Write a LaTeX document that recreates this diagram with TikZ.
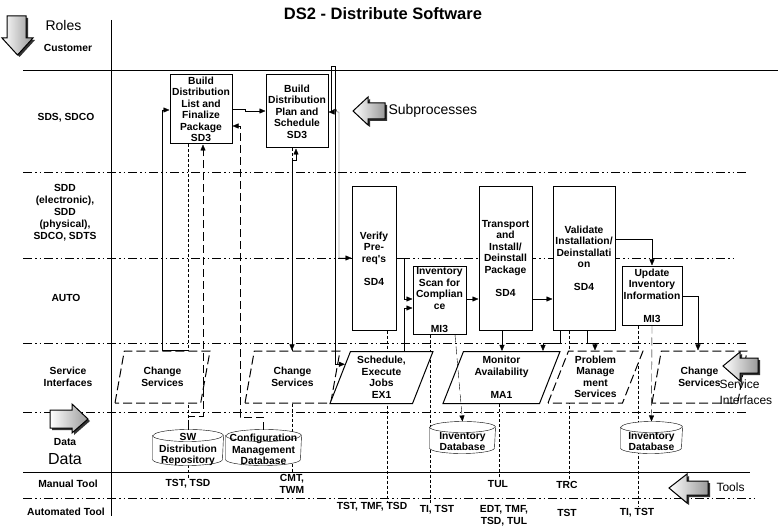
\documentclass[tikz,border=0pt]{standalone}
\usepackage{fontspec}
\setmainfont{Liberation Sans}
\usetikzlibrary{positioning}
\usetikzlibrary{shapes.geometric}
\usetikzlibrary{arrows.meta}
\usetikzlibrary{calc}
\pgfdeclarelayer{background}
\pgfsetlayers{background,main}
\newcommand{\procfont}{\bfseries\fontsize{10.3}{11.5}\selectfont}
\newcommand{\bigfont}{\fontsize{14}{16}\selectfont}
\newcommand{\ChangeSvc}{Change\\Services}
\newcommand{\InvDB}{Inventory\\Database}
\newcommand{\blockarrow}[1]{\fill[arrowshadow] #1; \path[bigarrow] #1;}
% database drum round a named node: name, x radius, y radius
\newcommand{\dbdraw}[3]{%
  \draw[fill=white] ([yshift=-#3]#1.north west) -- ([yshift=#3]#1.south west)
    arc[start angle=180, end angle=360, x radius=#2, y radius=#3]
    -- ([yshift=-#3]#1.north east)
    arc[start angle=0, end angle=180, x radius=#2, y radius=#3] -- cycle;
  \draw ([yshift=-#3]#1.north west) arc[start angle=180, end angle=360, x radius=#2, y radius=#3];}
\tikzstyle{proc} = [rectangle, draw, fill=white, inner sep=0pt, align=center, font=\procfont]
\tikzstyle{svc} = [trapezium, trapezium left angle=64, trapezium right angle=116, trapezium stretches body, draw, fill=white, inner sep=0pt, minimum height=52pt, align=center, font=\procfont]
\tikzstyle{svcD} = [svc, dash pattern=on 9pt off 4pt]
\tikzstyle{db} = [rectangle, inner sep=0pt]
\tikzstyle{dbtext} = [align=center, font=\procfont, inner sep=0pt]
\tikzstyle{lane} = [dash pattern=on 9pt off 3pt on 1.5pt off 3pt on 1.5pt off 3pt]
\tikzstyle{tool} = [dash pattern=on 3pt off 2pt]
\tikzstyle{datalink} = [dash pattern=on 8pt off 4pt]
\tikzstyle{role} = [align=center, font=\procfont]
\tikzstyle{toolLbl} = [align=center, font=\bfseries\fontsize{10.3}{12}\selectfont, inner sep=1pt]
\tikzstyle{bigarrow} = [draw, left color=white, right color=gray!80]
\tikzstyle{arrowshadow} = [fill=gray!40!black, xshift=2pt, yshift=-2pt]

\begin{document}
\begin{tikzpicture}[x=1pt, y=-1pt, line width=1pt, >={Triangle[length=6pt,width=5pt]}]
\useasboundingbox (0,0) rectangle (780,532);

% Define nodes
\node[font=\bfseries\fontsize{16.5}{18}\selectfont] (title) at (383,14) {DS2 - Distribute Software};

\node[anchor=west, inner sep=0pt, font=\bigfont]   (roles)    at (45,25)  {Roles};
\node[role]                                       (customer) at (68,48)  {Customer};
\node[role]                                       (sds)      at (66,118) {SDS, SDCO};
\node[role, font=\bfseries\fontsize{10.3}{12}\selectfont] (sdd) at (65,213) {SDD\\(electronic),\\SDD\\(physical),\\SDCO, SDTS};
\node[role]                                       (auto)     at (66,298) {AUTO};
\node[role]                                       (svcRole)  at (68,377) {Service\\Interfaces};
\node[role]                                       (dataS)    at (65,442) {Data};
\node[font=\fontsize{16}{18}\selectfont, inner sep=0pt] (dataL) at (65,459) {Data};
\node[role]                                       (manual)   at (68,484) {Manual Tool};
\node[role]                                       (automated) at (66,512) {Automated Tool};

\node[proc, minimum width=62pt, minimum height=69pt]                        (listpkg)   at (201,109.5) {Build\\Distribution\\List and\\Finalize\\Package\\SD3};
\node[proc, minimum width=62pt, minimum height=73pt, right=33pt of listpkg, yshift=-2pt] (planSched) {Build\\Distribution\\Plan and\\Schedule\\SD3};
\node[proc, minimum width=44pt, minimum height=143pt]                       (verify)    at (374,258.5) {Verify\\Pre-\\req\textquotesingle s\\~\\SD4};
\node[proc, minimum width=53pt, minimum height=68pt]                        (invscan)   at (439.5,300) {Inventory\\Scan for\\Complian\\ce\\~\\MI3};
\node[proc, minimum width=53pt, minimum height=143pt, right=82pt of verify] (transport) {Transport\\and\\Install/\\Deinstall\\Package\\~\\SD4};
\node[proc, minimum width=62pt, minimum height=143pt, right=20pt of transport] (validate) {Validate\\Installation/\\Deinstallati\\on\\~\\SD4};
\node[proc, minimum width=60pt, minimum height=59pt]                        (update)    at (652,295.5) {Update\\Inventory\\Information\\~\\MI3};

\node[svcD, minimum width=95pt]  (chg1)    at (162.5,377) {\ChangeSvc};
\node[svcD, minimum width=95pt]  (chg2)    at (292.5,377) {\ChangeSvc};
\node[svc,  minimum width=103pt] (jobs)    at (381.5,377.5) {Schedule,\\Execute\\Jobs\\EX1};
\node[svc,  minimum width=117pt] (monitor) at (501.5,377.5) {Monitor\\Availability\\~\\MA1};
\node[svcD, minimum width=95pt]  (problem) at (595.5,377) {Problem\\Manage\\ment\\Services};
\node[svcD, minimum width=95pt]  (chg3)    at (699.5,377) {\ChangeSvc};

\node[db, minimum width=70pt, minimum height=35pt, label={[dbtext, yshift=-2pt]center:{SW\\Distribution\\Repository}}]  (swrepo) at (188,447.5) {};
\node[db, minimum width=75pt, minimum height=35pt, label={[dbtext, yshift=-2pt]center:{Configuration\\Management\\Database}}] (cmdb) at (263.5,447.5) {};
\node[db, minimum width=65pt, minimum height=31pt, label={[dbtext, yshift=-4pt]center:{\InvDB}}] (inv1) at (462.5,437.5) {};
\node[db, minimum width=61pt, minimum height=31pt, label={[dbtext, yshift=-4pt]center:{\InvDB}}] (inv2) at (651.5,437.5) {};

\node[toolLbl] (tstA) at (188,484)   {TST, TSD};
\node[toolLbl] (cmt)  at (292,484)   {CMT,\\TWM};
\node[toolLbl] (tstB) at (372,507)   {TST, TMF, TSD};
\node[toolLbl] (tiA)  at (437,510)   {TI, TST};
\node[toolLbl] (tul)  at (498,484)   {TUL};
\node[toolLbl] (edt)  at (504,515.5) {EDT, TMF,\\TSD, TUL};
\node[toolLbl] (trc)  at (567,485)   {TRC};
\node[toolLbl] (tstC) at (567,513)   {TST};
\node[toolLbl] (tiB)  at (637,513)   {TI, TST};

% Block arrows
\blockarrow{(7,16) -- (26,16) -- (26,38) -- (33,38) -- (17.5,55) -- (2,38) -- (7,38) -- cycle}
\blockarrow{(50,410) -- (72,410) -- (72,404) -- (88,419) -- (72,433) -- (72,428) -- (50,428) -- cycle}
\blockarrow{(385,103) -- (368,103) -- (368,97) -- (353,111) -- (368,125) -- (368,119) -- (385,119) -- cycle}
\blockarrow{(758,358) -- (740,358) -- (740,352) -- (723,366) -- (740,381) -- (740,373) -- (758,373) -- cycle}
\blockarrow{(708,481) -- (687,481) -- (687,474) -- (669,488) -- (687,503) -- (687,495) -- (708,495) -- cycle}

\node[anchor=west, inner sep=0pt, font=\bigfont] (subproc) at (388,111) {Subprocesses};
\node[anchor=west, inner sep=0pt, align=left, font=\fontsize{12}{15.5}\selectfont] (svcif) at (719,392) {Service\\Interfaces};
\node[anchor=west, inner sep=0pt, font=\fontsize{12}{14}\selectfont] (tools) at (716,487) {Tools};

% Lanes, tool links and drums
\begin{pgfonlayer}{background}
\draw (111,20) -- (111,516);
\draw (23,70) -- (778,70);
\draw[lane] (23,172) -- (747,172);
\draw[lane] (23,258) -- (733,258);
\draw[lane] (23,343) -- (747,343);
\draw[lane] (23,412) -- (747,412);
\draw (23,472) -- (750,472);
\draw[lane] (23,498) -- (757,498);

\draw[tool] (188,0 |- listpkg.south)   -- (188,0 |- tstA.north);
\draw[tool] (292,0 |- planSched.south) -- (292,0 |- cmt.north);
\draw[tool] (387,0 |- verify.south)    -- (387,0 |- tstB.north);
\draw[tool] (430,0 |- invscan.south)   -- (430,0 |- tiA.north);
\draw[tool] (499,0 |- monitor.south)   -- (499,0 |- tul.north);
\draw[tool] (569,0 |- validate.south)  -- (569,0 |- trc.north);
\draw[tool] (638,0 |- update.south)    -- (638,0 |- tiB.north);

\dbdraw{swrepo}{35pt}{6pt}
\dbdraw{cmdb}{37.5pt}{6pt}
\dbdraw{inv1}{32.5pt}{5.5pt}
\dbdraw{inv2}{30.5pt}{5.5pt}
\end{pgfonlayer}

% Edges
\draw[->] (188,0 |- chg1.north) -- (162,0 |- chg1.north) |- (listpkg.west |- 0,110);
\draw[->] (listpkg.east |- 0,109) -- (245,109) -- (245,111) -- (planSched.west |- 0,111);
\draw[<->] (296,0 |- planSched.south) -- (296,160) -- (292,160) -- (292,0 |- chg2.north);
\draw[->] (331,112) -- (331,66) -- (335,66) |- ($(jobs.top left corner)!0.25!(jobs.bottom left corner)$);
\draw[->] (331,112) -- (planSched.east |- 0,112);
\draw[->] (331,112) -- (333,112) .. controls (333,108) and (337,108) .. (337,112) -- (339,112) |- (verify.west |- 0,258);
\draw[->] (verify.east |- 0,258) -- (404,258) |- (invscan.west |- 0,299);
\draw[->] (404,0 |- jobs.north) |- (invscan.west |- 0,308);
\draw[->] (invscan.east |- 0,299) -- (transport.west |- 0,299);
\draw[->] (transport.east |- 0,299) -- (validate.west |- 0,299);
\draw[->] (validate.east |- 0,239) -| (update.north);
\draw[->] (update.east |- 0,296) -| (698,0 |- chg3.north);
\draw[->] (502,0 |- transport.south) -- (502,0 |- monitor.north);
\draw[->] (560,0 |- validate.south) |- (543,343) -- (543,0 |- monitor.north);
\draw[->] (587,0 |- validate.south) |- (595,343) -- (595,0 |- problem.north);

\draw[datalink, ->] (swrepo.north) -- (188,416) -- (203,416) -- (203,0 |- listpkg.south);
\draw[datalink, ->] (cmdb.north) -- (263.5,417) -- (240,417) |- (listpkg.east |- 0,126);
\draw[datalink, ->] (455,0 |- invscan.south) -- (inv1.north);
\draw[datalink, ->] (update.south) -- (inv2.north);
\end{tikzpicture}
\end{document}
